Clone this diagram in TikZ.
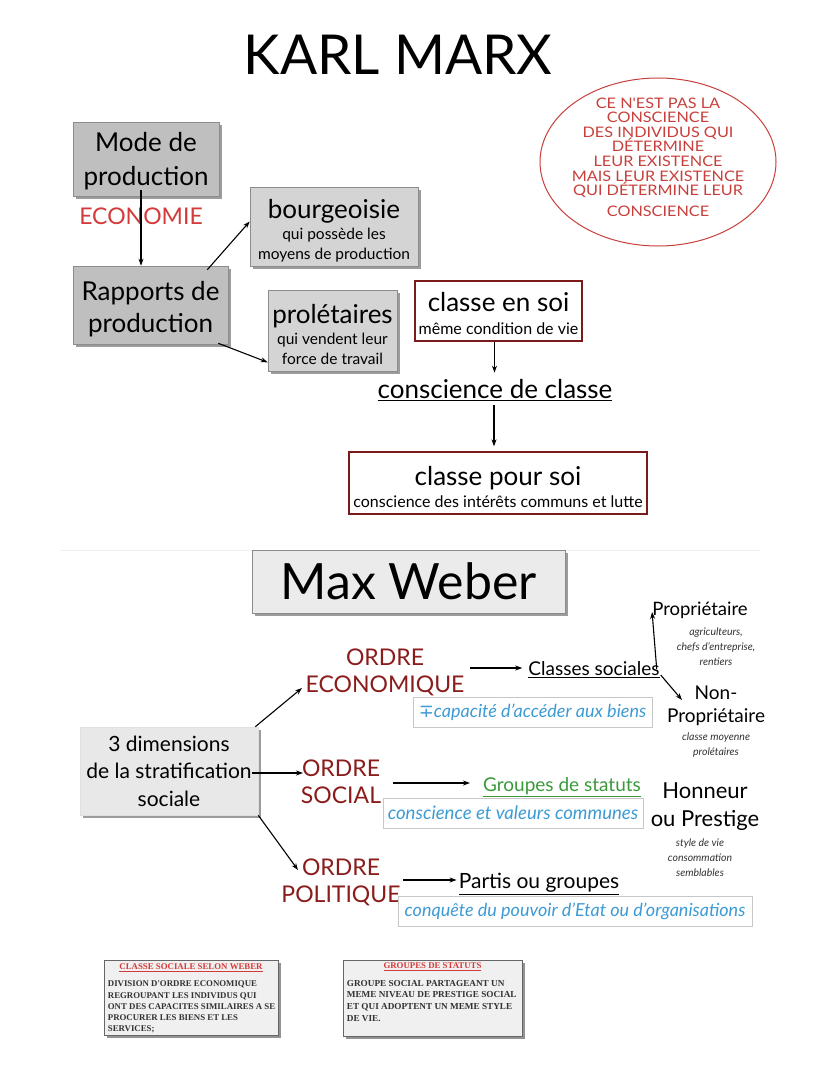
\documentclass[tikz,border=0pt]{standalone}
\usepackage{fontspec}
\setmainfont{Lato}
\newfontfamily\ellfont[FakeStretch=1.12]{Lato}
\newfontfamily\serifbox{Liberation Serif}
\newfontfamily\symfont{DejaVu Sans}
\usetikzlibrary{shapes.geometric,arrows.meta,shadows,calc}
\definecolor{ellred}{HTML}{C8403C}
\definecolor{ecored}{HTML}{D43A3A}
\definecolor{ordred}{HTML}{8B1C1C}
\definecolor{soibord}{HTML}{7A1A1A}
\definecolor{wblue}{HTML}{3D9BD4}
\definecolor{wgreen}{HTML}{3A9A3A}
\newcommand{\fs}[2]{\fontsize{#1}{#2}\selectfont}
\newcommand{\upr}[1]{\rule{0pt}{#1}}
\newcommand{\tightls}{\lineskiplimit-20pt\lineskip0pt\relax}
\tikzset{
  arr/.style={-{Stealth[length=7pt,width=5pt]}, line width=1.1pt},
  graybox/.style={draw=black!45, line width=0.6pt, fill=#1, align=center, inner sep=0pt,
     drop shadow={shadow xshift=2.5pt, shadow yshift=-2.5pt, fill=black!55, opacity=0.7}},
  soibox/.style={draw=soibord, line width=1.3pt, fill=white, align=center, inner sep=0pt},
  bluebox/.style={draw=black!22, line width=0.8pt, fill=white, align=center, inner sep=0pt,
     font=\fs{18}{20}\itshape, text=wblue},
  txt/.style={align=center, inner sep=0pt},
  ordre/.style={txt, text=ordred, font=\fs{23}{27}},
  smallit/.style={txt, font=\fs{10.5}{15}\itshape, text=black!80},
  docbox/.style={draw=black!60, line width=0.6pt, fill=black!6, inner sep=0pt,
     drop shadow={shadow xshift=2.5pt, shadow yshift=-2.5pt, fill=black!60, opacity=0.7}}
}
\begin{document}
\begin{tikzpicture}[x=1pt,y=-1pt]
\useasboundingbox (0,0) rectangle (828,1071);
\fill[white] (0,0) rectangle (828,1071);
% ---------------- KARL MARX ----------------
\node[txt, font=\fs{55}{60}] (title) at (398,55) {KARL MARX};
\node[ellipse, draw=ellred, line width=1pt, minimum width=236pt, minimum height=168pt] (ell) at (658,162) {};
\node[txt, text=ellred, font=\ellfont\fs{14.5}{14.6}\tightls] (elltxt) at (658,157) {CE N'EST PAS LA\\CONSCIENCE\\DES INDIVIDUS QUI\\DÉTERMINE\\LEUR EXISTENCE\\MAIS LEUR EXISTENCE\\QUI DÉTERMINE LEUR\\[6pt]CONSCIENCE};

\node[graybox=black!25, minimum width=146pt, minimum height=74pt, font=\fs{26}{34}] (mode) at (146,159) {\upr{23.5pt}Mode de\\production};
\node[txt, text=ecored, font=\fs{23}{26}] (eco) at (141,216) {ECONOMIE};
\node[graybox=black!25, minimum width=155pt, minimum height=78pt, font=\fs{26}{32}] (rap) at (150.5,305) {\upr{27.5pt}Rapports de\\production};
\node[graybox=black!17, minimum width=168pt, minimum height=79pt, font=\fs{15.5}{20}] (bourg) at (334,226.5)
  {\fs{26}{28}\upr{27.5pt}bourgeoisie\\[1pt]\fs{15.5}{20}qui possède les\\\fs{15.5}{20}moyens de production};
\node[graybox=black!17, minimum width=129pt, minimum height=81pt, font=\fs{15.5}{19.5}] (prol) at (332.5,330.5)
  {\fs{26}{28}\upr{26.5pt}prolétaires\\[2pt]\fs{15.5}{20}qui vendent leur\\\fs{15.5}{20}force de travail};
\node[soibox, minimum width=167pt, minimum height=60pt, font=\fs{16}{23}] (soi) at (498.5,311)
  {\fs{26}{28}\upr{23.5pt}classe en soi\\\fs{16}{18}même condition de vie};
\node[txt, font=\fs{26}{28}] (consc) at (495,390) {\underline{conscience de classe}};
\node[soibox, minimum width=298pt, minimum height=62pt, font=\fs{16}{22}] (pour) at (498,483)
  {\fs{26}{28}\upr{26.5pt}classe pour soi\\\fs{16}{18}conscience des intérêts communs et lutte};

\draw[arr] ($(mode.south)+(-5,-6)$) -- ($(rap.north)+(-9.5,0)$);
\draw[arr] ($(rap.north east)+(-21,4)$) -- ($(bourg.west)+(0,-5)$);
\draw[arr] ($(rap.south east)+(-10,-1)$) -- ($(prol.south west)+(0,-9)$);
\draw[arr] ($(soi.south)+(-4,0)$) -- ($(soi.south)+(-4,31)$);
\draw[arr] ($(consc.south)+(-1,4)$) -- ($(pour.north)+(-4,-5)$);

% separator
\draw[black!6, line width=1pt] (60,550) -- (760,550);

% ---------------- MAX WEBER ----------------
\node[graybox=black!8, minimum width=313pt, minimum height=63pt, font=\fs{50}{54}] (weber) at (408.5,581.5) {Max Weber};
\node[graybox=black!9, draw=black!12, minimum width=178pt, minimum height=88pt, font=\fs{21}{27.5}] (dim) at (169,771) {3 dimensions\\de la stratification\\sociale};

\node[ordre] (oeco) at (385,672) {ORDRE\\ECONOMIQUE};
\node[ordre] (osoc) at (341,782) {ORDRE\\SOCIAL};
\node[ordre] (opol) at (341,882) {ORDRE\\POLITIQUE};

\node[txt, font=\fs{19}{22}] (cls) at (594,670) {\underline{Classes sociales}};
\node[bluebox, minimum width=239pt, minimum height=30pt] (cap) at (532.5,712) {{\upshape\symfont ∓}capacité d'accéder aux biens};
\node[txt, font=\fs{18.5}{22}] (prop) at (700,610) {Propriétaire};
\node[smallit] (propsub) at (716,647) {agriculteurs,\\chefs d'entreprise,\\rentiers};
\node[txt, font=\fs{19}{23}] (nonp) at (716,706) {Non-\\Propriétaire};
\node[smallit] (nonpsub) at (716,745.5) {classe moyenne\\prolétaires};

\node[txt, font=\fs{19}{22}, text=wgreen] (grp) at (562,787) {\underline{Groupes de statuts}};
\node[bluebox, minimum width=260pt, minimum height=30pt, font=\fs{18.6}{20}\itshape] (cvc) at (513,813) {conscience et valeurs communes};
\node[txt, font=\fs{22}{28}] (hon) at (705,807) {Honneur\\ou Prestige};
\node[smallit] (honsub) at (700,858) {style de vie\\consommation\\semblables};

\node[txt, font=\fs{21}{22}] (part) at (539,884) {\underline{Partis ou groupes}};
\node[bluebox, minimum width=354pt, minimum height=30pt] (conq) at (575,911) {conquête du pouvoir d'Etat ou d'organisations};

\draw[arr] ($(dim.north east)+(-3,0)$) -- ($(oeco.center)+(-83,16)$);
\draw[arr] ($(dim.east)+(-6,2)$) -- ($(osoc.center)+(-38,-9)$);
\draw[arr] (dim.south east) -- ($(opol.center)+(-43,-12)$);
\draw[arr] ($(oeco.center)+(85,-4)$) -- ($(cls.west)+(-6,-2)$);
\draw[arr] ($(osoc.center)+(52,1)$) -- ($(osoc.center)+(129,1)$);
\draw[arr] ($(opol.center)+(62,-2)$) -- ($(part.west)+(-2,-4)$);
\draw[arr] ($(cls.east)+(-3,-1)$) -- ($(prop.west)+(0,2)$);
\draw[arr] ($(cls.east)+(1,5)$) -- ($(nonp.center)+(-34,-6)$);

% ---------------- bottom document boxes ----------------
\node[docbox, minimum width=174pt, minimum height=75pt] (doc1) at (191,997.5) {};
\node[txt, anchor=north, text=ecored, font=\serifbox\bfseries\fs{8.8}{9}] (doc1t) at ($(doc1.north)+(0,4)$) {\underline{CLASSE SOCIALE SELON WEBER}};
\node[anchor=north west, inner sep=0pt, align=left, text=black!80, font=\serifbox\bfseries\fs{8.8}{11.3}] (doc1b) at ($(doc1.north west)+(4,21)$) {DIVISION D'ORDRE ECONOMIQUE\\REGROUPANT LES INDIVIDUS QUI\\ONT DES CAPACITES SIMILAIRES A SE\\PROCURER LES BIENS ET LES\\SERVICES;};
\node[docbox, minimum width=179pt, minimum height=76pt] (doc2) at (432.5,998) {};
\node[txt, anchor=north, text=ecored, font=\serifbox\bfseries\fs{8.8}{9}] (doc2t) at ($(doc2.north)+(0,3)$) {\underline{GROUPES DE STATUTS}};
\node[anchor=north west, inner sep=0pt, align=left, text=black!80, font=\serifbox\bfseries\fs{9.2}{11.7}] (doc2b) at ($(doc2.north west)+(4,20)$) {GROUPE SOCIAL PARTAGEANT UN\\MEME NIVEAU DE PRESTIGE SOCIAL\\ET QUI ADOPTENT UN MEME STYLE\\DE VIE.};
\end{tikzpicture}
\end{document}
